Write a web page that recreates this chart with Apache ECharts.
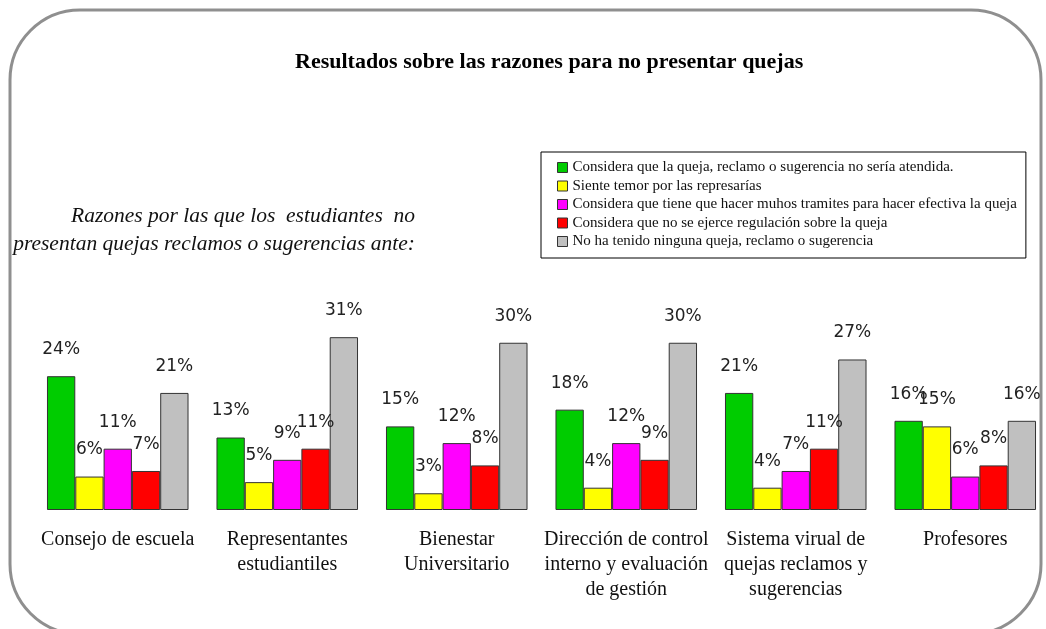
<!DOCTYPE html>
<html>
<head>
<meta charset="utf-8">
<script src="https://cdn.jsdelivr.net/npm/echarts@6/dist/echarts.min.js"></script>
<style>
  html, body { margin: 0; padding: 0; background: #fff; overflow: hidden; }
  /* a little wider than the window so the last group keeps the same band width */
  #chart { width: 1052px; height: 629px; }
</style>
</head>
<body>
<div id="chart"></div>
<script>
// Instances the students could turn to with a complaint
const categories = [
  'Consejo de escuela',
  'Representantes\nestudiantiles',
  'Bienestar\nUniversitario',
  'Dirección de control\ninterno y evaluación\nde gestión',
  'Sistema virual de\nquejas reclamos y\nsugerencias',
  'Profesores'
];

// Reasons for not filing a complaint (legend entries)
const reasons = [
  'Considera que la queja, reclamo o sugerencia no sería atendida.',
  'Siente temor por las represarías',
  'Considera que tiene que hacer muhos tramites para hacer efectiva la queja',
  'Considera que no se ejerce regulación sobre la queja',
  'No ha tenido ninguna queja, reclamo o sugerencia'
];

// Percentages per reason, one value per instance
const noAtendida   = [24, 13, 15, 18, 21, 16];
const temor        = [6, 5, 3, 4, 4, 15];
const tramites     = [11, 9, 12, 12, 7, 6];
const noRegulacion = [7, 11, 8, 9, 11, 8];
const ningunaQueja = [21, 31, 30, 30, 27, 16];

const seriesValues = [noAtendida, temor, tramites, noRegulacion, ningunaQueja];
const colors = ['#00cc00', '#ffff00', '#ff00ff', '#ff0000', '#c0c0c0'];

const chart = echarts.init(document.getElementById('chart'));

chart.setOption({
  animation: false,
  backgroundColor: '#ffffff',
  title: {
    text: 'Resultados sobre las razones para no presentar quejas',
    left: 290,
    top: 46,
    textStyle: {
      fontFamily: 'Liberation Serif',
      fontWeight: 'bold',
      fontSize: 22,
      color: '#000'
    }
  },
  graphic: [
    {
      type: 'rect',
      shape: { x: 10, y: 10, width: 1031, height: 624, r: 70 },
      style: { fill: 'none', stroke: '#8f8f8f', lineWidth: 3 },
      silent: true
    },
    {
      type: 'text',
      x: 415,
      y: 202,
      style: {
        text: 'Razones por las que los  estudiantes  no\npresentan quejas reclamos o sugerencias ante:',
        fill: '#111',
        font: 'italic 21.5px "Liberation Serif"',
        align: 'right',
        verticalAlign: 'top',
        lineHeight: 28
      }
    }
  ],
  legend: {
    orient: 'vertical',
    left: 541,
    top: 152,
    padding: [8, 9, 9, 16],
    itemWidth: 10,
    itemHeight: 10,
    itemGap: 3.5,
    itemTextGap: 13,
    borderColor: '#000',
    borderWidth: 1,
    itemStyle: { borderColor: '#333', borderWidth: 1 },
    icon: 'rect',
    textStyle: {
      fontFamily: 'Liberation Serif',
      fontSize: 15,
      lineHeight: 15,
      color: '#111'
    },
    data: reasons
  },
  grid: {
    left: 33,
    top: 287,
    width: 1017,
    height: 223,
    containLabel: false
  },
  xAxis: {
    type: 'category',
    data: categories,
    axisLine: { show: false },
    axisTick: { show: false },
    axisLabel: {
      interval: 0,
      margin: 17,
      fontFamily: 'Liberation Serif',
      fontSize: 20,
      lineHeight: 25,
      color: '#111',
      verticalAlign: 'top'
    }
  },
  yAxis: {
    type: 'value',
    min: 0,
    max: 40,
    show: false,
    splitLine: { show: false }
  },
  series: seriesValues.map((vals, i) => ({
    name: reasons[i],
    type: 'bar',
    data: vals,
    barGap: '0%',
    barCategoryGap: '16.5%',
    itemStyle: { color: colors[i], borderColor: '#333', borderWidth: 1 },
    label: {
      show: true,
      position: 'top',
      distance: 18,
      formatter: '{c}%',
      fontFamily: 'DejaVu Sans',
      fontSize: 17,
      color: '#222'
    }
  }))
});
</script>
</body>
</html>
